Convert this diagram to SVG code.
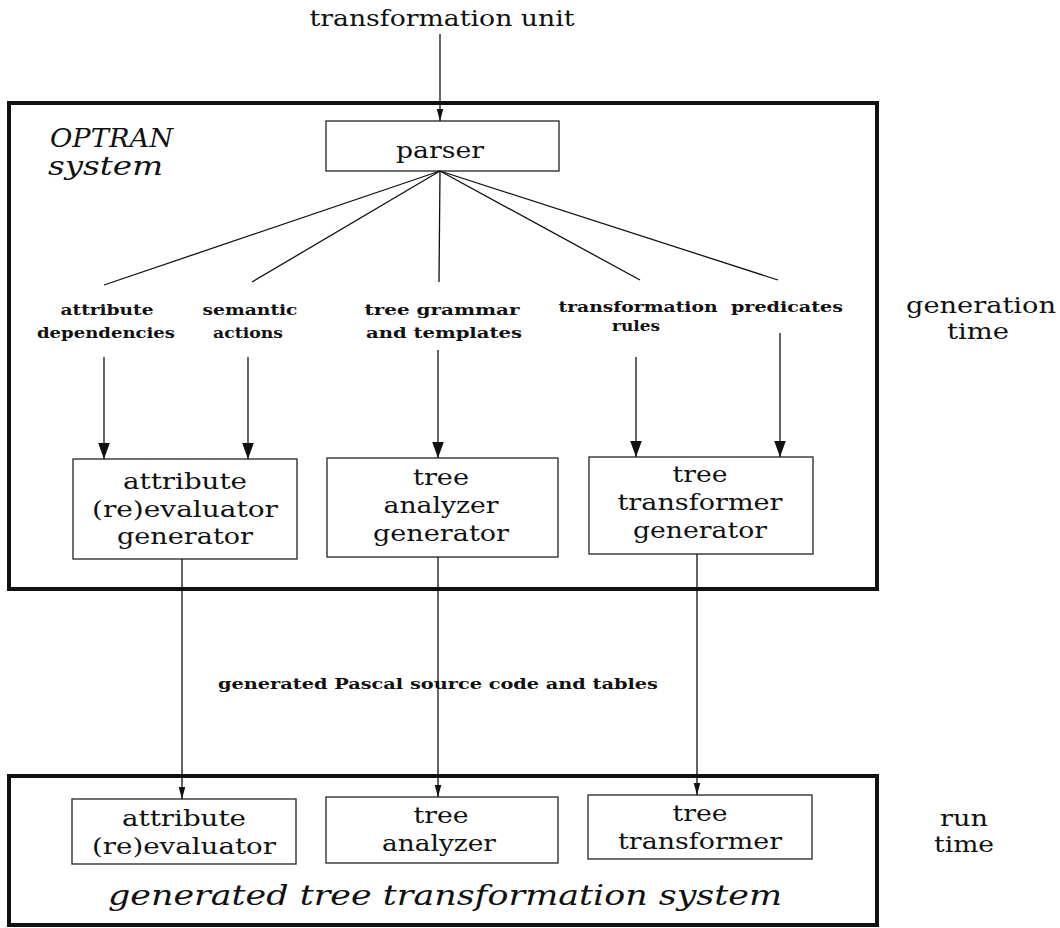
<svg xmlns="http://www.w3.org/2000/svg" width="1060" height="928" viewBox="0 0 1060 928">
<style>
  .frame { fill: none; stroke: #111; stroke-width: 4; }
  .box { fill: #fff; stroke: #333; stroke-width: 1.4; }
  .line { fill: none; stroke: #111; stroke-width: 1.3; }
  .big { font-family: "DejaVu Serif", "Liberation Serif", serif; font-size: 22px; fill: #111; text-anchor: middle; }
  .lbl { font-family: "DejaVu Serif", "Liberation Serif", serif; font-size: 15px; font-weight: bold; fill: #111; text-anchor: middle; }
  .ital { font-family: "DejaVu Serif", "Liberation Serif", serif; font-style: italic; fill: #111; }
</style>
<defs>
  <marker id="headBig" markerUnits="userSpaceOnUse" markerWidth="16" markerHeight="24" refX="22" refY="8" orient="auto" viewBox="0 0 22 16">
    <path d="M0,0 L22,8 L0,16 Z" fill="#111"/>
  </marker>
  <marker id="headSmall" markerUnits="userSpaceOnUse" markerWidth="12" markerHeight="22" refX="20" refY="5.5" orient="auto" viewBox="0 0 20 11">
    <path d="M0,0 L20,5.5 L0,11 Z" fill="#111"/>
  </marker>
</defs>

<g id="title">
  <text class="big" x="442" y="26" font-size="21" textLength="265" lengthAdjust="spacingAndGlyphs">transformation unit</text>
</g>

<g id="optran-frame">
  <rect class="frame" x="9" y="103" width="868" height="486"/>
  <text class="ital" x="50" y="147" font-size="26" textLength="123" lengthAdjust="spacingAndGlyphs">OPTRAN</text>
  <text class="ital" x="48" y="175" font-size="26" textLength="115" lengthAdjust="spacingAndGlyphs">system</text>
</g>

<g id="runtime-frame">
  <rect class="frame" x="9" y="776" width="868" height="149"/>
  <text class="ital" x="108" y="905" font-size="28" textLength="674" lengthAdjust="spacingAndGlyphs">generated tree transformation system</text>
</g>

<g id="parser">
  <rect class="box" x="326" y="121" width="233" height="50"/>
  <text class="big" x="440" y="158" textLength="88" lengthAdjust="spacingAndGlyphs">parser</text>
</g>

<g id="label-attribute-dependencies">
  <text class="lbl" x="107" y="315" textLength="93" lengthAdjust="spacingAndGlyphs">attribute</text>
  <text class="lbl" x="106" y="338" textLength="138" lengthAdjust="spacingAndGlyphs">dependencies</text>
</g>
<g id="label-semantic-actions">
  <text class="lbl" x="250" y="315" textLength="95" lengthAdjust="spacingAndGlyphs">semantic</text>
  <text class="lbl" x="248" y="338" textLength="70" lengthAdjust="spacingAndGlyphs">actions</text>
</g>
<g id="label-tree-grammar">
  <text class="lbl" x="442" y="315" textLength="155" lengthAdjust="spacingAndGlyphs">tree grammar</text>
  <text class="lbl" x="444" y="338" textLength="156" lengthAdjust="spacingAndGlyphs">and templates</text>
</g>
<g id="label-transformation-rules">
  <text class="lbl" x="638" y="312" textLength="159" lengthAdjust="spacingAndGlyphs">transformation</text>
  <text class="lbl" x="636" y="331" textLength="48" lengthAdjust="spacingAndGlyphs">rules</text>
</g>
<g id="label-predicates">
  <text class="lbl" x="787" y="312" textLength="112" lengthAdjust="spacingAndGlyphs">predicates</text>
</g>

<g id="gen-attribute">
  <rect class="box" x="73" y="459" width="224" height="100"/>
  <text class="big" x="185" y="489" font-size="23" textLength="124" lengthAdjust="spacingAndGlyphs">attribute</text>
  <text class="big" x="185" y="517" font-size="23" textLength="186" lengthAdjust="spacingAndGlyphs">(re)evaluator</text>
  <text class="big" x="185" y="544" font-size="23" textLength="136" lengthAdjust="spacingAndGlyphs">generator</text>
</g>
<g id="gen-analyzer">
  <rect class="box" x="327" y="458" width="231" height="99"/>
  <text class="big" x="441" y="485" font-size="23" textLength="56" lengthAdjust="spacingAndGlyphs">tree</text>
  <text class="big" x="441" y="513" font-size="23" textLength="115" lengthAdjust="spacingAndGlyphs">analyzer</text>
  <text class="big" x="441" y="541" font-size="23" textLength="136" lengthAdjust="spacingAndGlyphs">generator</text>
</g>
<g id="gen-transformer">
  <rect class="box" x="589" y="457" width="224" height="97"/>
  <text class="big" x="700" y="482" font-size="23" textLength="55" lengthAdjust="spacingAndGlyphs">tree</text>
  <text class="big" x="700" y="510" font-size="23" textLength="165" lengthAdjust="spacingAndGlyphs">transformer</text>
  <text class="big" x="700" y="538" font-size="23" textLength="134" lengthAdjust="spacingAndGlyphs">generator</text>
</g>

<g id="generation-time">
  <text class="big" x="981" y="313" textLength="150" lengthAdjust="spacingAndGlyphs">generation</text>
  <text class="big" x="978" y="339" textLength="62" lengthAdjust="spacingAndGlyphs">time</text>
</g>

<g id="pascal-label">
  <text class="lbl" x="438" y="689" font-size="14" textLength="440" lengthAdjust="spacingAndGlyphs">generated Pascal source code and tables</text>
</g>

<g id="rt-attribute">
  <rect class="box" x="72" y="799" width="224" height="65"/>
  <text class="big" x="184" y="826" font-size="23" textLength="124" lengthAdjust="spacingAndGlyphs">attribute</text>
  <text class="big" x="184" y="854" font-size="23" textLength="184" lengthAdjust="spacingAndGlyphs">(re)evaluator</text>
</g>
<g id="rt-analyzer">
  <rect class="box" x="326" y="797" width="232" height="66"/>
  <text class="big" x="441" y="823" font-size="23" textLength="55" lengthAdjust="spacingAndGlyphs">tree</text>
  <text class="big" x="439" y="851" font-size="23" textLength="114" lengthAdjust="spacingAndGlyphs">analyzer</text>
</g>
<g id="rt-transformer">
  <rect class="box" x="588" y="795" width="224" height="64"/>
  <text class="big" x="700" y="821" font-size="23" textLength="55" lengthAdjust="spacingAndGlyphs">tree</text>
  <text class="big" x="700" y="849" font-size="23" textLength="164" lengthAdjust="spacingAndGlyphs">transformer</text>
</g>

<g id="run-time">
  <text class="big" x="964" y="826" textLength="48" lengthAdjust="spacingAndGlyphs">run</text>
  <text class="big" x="964" y="852" textLength="60" lengthAdjust="spacingAndGlyphs">time</text>
</g>

<g id="connectors">
  <line class="line" x1="440" y1="34" x2="440" y2="121" marker-end="url(#headSmall)"/>
  <line class="line" x1="440" y1="171" x2="104" y2="285"/>
  <line class="line" x1="440" y1="171" x2="252" y2="282"/>
  <line class="line" x1="440" y1="171" x2="439" y2="282"/>
  <line class="line" x1="440" y1="171" x2="640" y2="280"/>
  <line class="line" x1="440" y1="171" x2="778" y2="280"/>
  <line class="line" x1="104" y1="357" x2="104" y2="459" marker-end="url(#headBig)"/>
  <line class="line" x1="248" y1="357" x2="248" y2="459" marker-end="url(#headBig)"/>
  <line class="line" x1="438" y1="350" x2="438" y2="458" marker-end="url(#headBig)"/>
  <line class="line" x1="636" y1="357" x2="636" y2="457" marker-end="url(#headBig)"/>
  <line class="line" x1="780" y1="333" x2="780" y2="457" marker-end="url(#headBig)"/>
  <line class="line" x1="182" y1="559" x2="182" y2="799" marker-end="url(#headSmall)"/>
  <line class="line" x1="438" y1="557" x2="438" y2="797" marker-end="url(#headSmall)"/>
  <line class="line" x1="697" y1="554" x2="697" y2="795" marker-end="url(#headSmall)"/>
</g>
</svg>
